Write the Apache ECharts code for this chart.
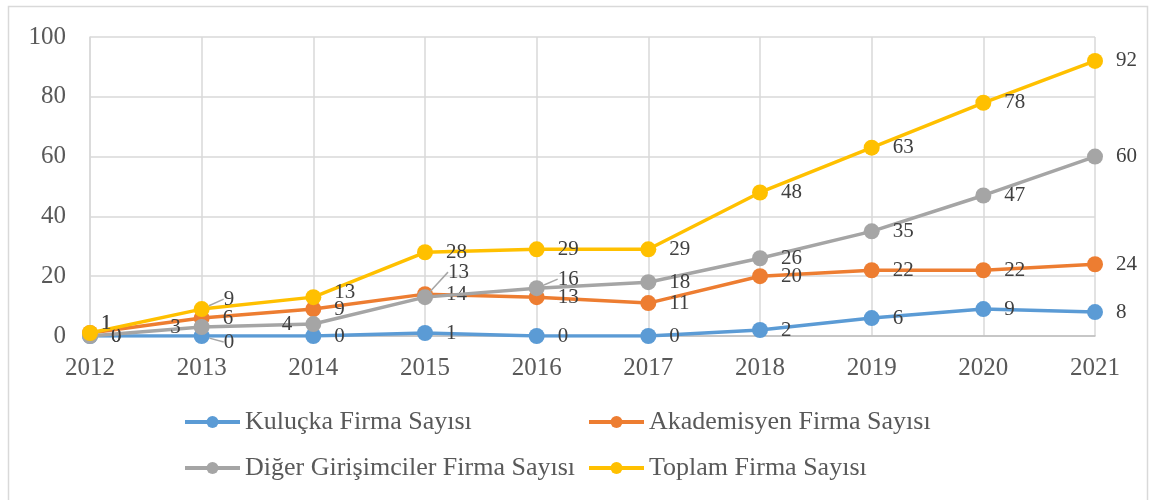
<!DOCTYPE html>
<html>
<head>
<meta charset="utf-8">
<script src="https://cdn.jsdelivr.net/npm/echarts@6/dist/echarts.min.js"></script>
<style>
  html, body { margin: 0; padding: 0; background: #fff; }
  #chart { width: 1155px; height: 500px; }
</style>
</head>
<body>
<div id="chart"></div>
<script>
var years = ['2012', '2013', '2014', '2015', '2016', '2017', '2018', '2019', '2020', '2021'];
var kulucka = [0, 0, 0, 1, 0, 0, 2, 6, 9, 8];
var akademisyen = [1, 6, 9, 14, 13, 11, 20, 22, 22, 24];
var diger = [0, 3, 4, 13, 16, 18, 26, 35, 47, 60];
var toplam = [1, 9, 13, 28, 29, 29, 48, 63, 78, 92];
var yTicks = [0, 20, 40, 60, 80, 100];

var names = ['Kuluçka Firma Sayısı', 'Akademisyen Firma Sayısı', 'Diğer Girişimciler Firma Sayısı', 'Toplam Firma Sayısı'];
var colors = ['#5B9BD5', '#ED7D31', '#A5A5A5', '#FFC000'];
var font = 'Liberation Serif, Times New Roman, serif';

// labels placed on the left of the point
var leftLabels = { 2: [1, 2] };
// labels pulled away from the point [dx, dy, leader line]
var moved = {
    0: { 1: [1, 6, true] },
    1: { 0: [-10, -10, false] },
    2: { 3: [2, -25, true], 4: [0, -9, true] },
    3: { 0: [-10, -10, false], 1: [1, -10, true], 2: [0, -5, false] }
};

var chart = echarts.init(document.getElementById('chart'));

function makeSeries(idx, values) {
    var data = values.map(function (v, i) {
        var item = { value: v };
        if (leftLabels[idx] && leftLabels[idx].indexOf(i) >= 0) {
            item.label = { position: 'left' };
        }
        var m = moved[idx] && moved[idx][i];
        if (m && m[2]) {
            item.labelLine = { show: true };
        }
        return item;
    });
    return {
        name: names[idx],
        type: 'line',
        data: data,
        symbol: 'circle',
        symbolSize: 16,
        lineStyle: { width: 3.5, color: colors[idx] },
        itemStyle: { color: colors[idx] },
        label: {
            show: true,
            position: 'right',
            distance: 13,
            offset: [0, 5],
            fontFamily: font,
            fontSize: 21,
            color: '#404040'
        },
        labelLine: {
            show: false,
            lineStyle: { color: '#A6A6A6', width: 1.5 }
        },
        labelLayout: function (p) {
            var m = moved[idx] && moved[idx][p.dataIndex];
            if (m) {
                return { dx: m[0], dy: m[1] };
            }
            return {};
        },
        z: 2 + idx
    };
}

var legendPos = [[183, 409], [587, 409], [183, 455], [587, 455]];

var option = {
    animation: false,
    color: colors,
    graphic: [{
        type: 'rect',
        shape: { x: 8.5, y: 6.5, width: 1139, height: 520 },
        style: { fill: 'none', stroke: '#D9D9D9', lineWidth: 1.5 },
        silent: true
    }],
    legend: names.map(function (n, i) {
        return {
            data: [n],
            left: legendPos[i][0],
            top: legendPos[i][1],
            itemWidth: 55,
            itemHeight: 15,
            itemGap: 5,
            padding: 0,
            lineStyle: { width: 4 },
            textStyle: { fontFamily: font, fontSize: 26, color: '#595959' }
        };
    }),
    grid: {
        left: 90,
        right: 60,
        top: 37,
        bottom: 164
    },
    xAxis: {
        type: 'category',
        data: years,
        boundaryGap: false,
        axisLine: { lineStyle: { color: '#BFBFBF', width: 1.5 } },
        axisTick: { show: false },
        splitLine: { show: true, lineStyle: { color: '#D9D9D9', width: 1.5 } },
        axisLabel: { fontFamily: font, fontSize: 25, color: '#595959', margin: 20 }
    },
    yAxis: {
        type: 'value',
        min: yTicks[0],
        max: yTicks[yTicks.length - 1],
        interval: yTicks[1] - yTicks[0],
        axisLine: { show: true, lineStyle: { color: '#D9D9D9', width: 1.5 } },
        axisTick: { show: false },
        splitLine: { lineStyle: { color: '#D9D9D9', width: 1.5 } },
        axisLabel: { fontFamily: font, fontSize: 25, color: '#595959', margin: 24 }
    },
    series: [
        makeSeries(0, kulucka),
        makeSeries(1, akademisyen),
        makeSeries(2, diger),
        makeSeries(3, toplam)
    ]
};

chart.setOption(option);
</script>
</body>
</html>
